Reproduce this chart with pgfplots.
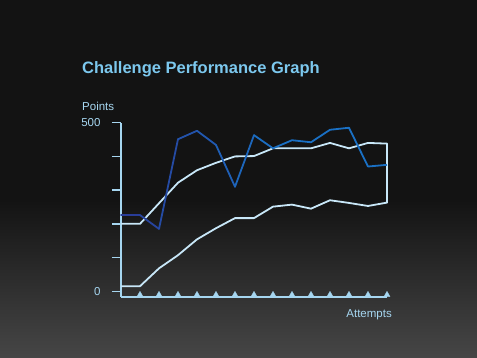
\documentclass[border=0pt]{standalone}
\usepackage{pgfplots}
\pgfplotsset{compat=1.18}
\usepackage{fontspec}
\setmainfont{Liberation Sans}
\definecolor{bgtop}{HTML}{131313}
\definecolor{bgbot}{HTML}{464646}
\definecolor{axcol}{HTML}{A6D6F0}
\definecolor{linecol}{HTML}{C8E7F8}
\definecolor{titlecol}{HTML}{7CC8EE}
\definecolor{blueA}{HTML}{2A3A96}
\definecolor{blueB}{HTML}{1A70C4}
\begin{document}
\begin{tikzpicture}[x=1pt,y=1pt]
\fill[bgtop] (0,0) rectangle (477,-201);
\shade[top color=bgtop, bottom color=bgbot] (0,-200) rectangle (477,-358);
\node[anchor=base west, font=\fontsize{16.5}{18}\selectfont\bfseries, text=titlecol, inner sep=0] at (82,-74) {Challenge Performance Graph};
\node[anchor=base west, font=\fontsize{11.5}{13}\selectfont, text=axcol, inner sep=0] at (82,-111) {Points};
\node[anchor=base east, font=\fontsize{11.5}{13}\selectfont, text=axcol, inner sep=0] at (392,-317.5) {Attempts};
\begin{axis}[
  at={(121pt,-297pt)}, anchor=south west,
  scale only axis, width=266pt, height=174.3pt,
  xmin=0, xmax=14, ymin=-17, ymax=500,
  axis x line=bottom, axis y line=left,
  axis line style={axcol, line width=1.8pt, -},
  xtick=\empty,
  ytick={0,100,200,300,400,500},
  yticklabels={\raisebox{-4pt}{0},,,,,500},
  tick align=outside,
  major tick length=9pt,
  y tick style={axcol, line width=1.5pt},
  yticklabel style={font=\fontsize{11.5}{13}\selectfont, text=axcol, xshift=-8pt},
  /pgf/number format/assume math mode=true,
  clip=false,
]
% white band (upper line, right edge, lower line back)
\addplot[linecol, line width=1.8pt, line join=round] coordinates {
(0,200)(1,200)(2,261)(3,322)(4,359)(5,381)(6,400)(7,401)(8,424)(9,424)(10,424)(11,440)(12,424)(13,440)(14,438)
(14,263)(13,253)(12,262)(11,270)(10,245)(9,257)(8,251)(7,217)(6,217)(5,187)(4,154)(3,107)(2,68)(1,15)(0,15)};
% blue series, segment colours shading from navy to bright blue
\addplot[blueB!6!blueA, line width=1.8pt, line cap=round] coordinates {(0,226)(1,226)};
\addplot[blueB!19!blueA, line width=1.8pt, line cap=round] coordinates {(1,226)(2,185)};
\addplot[blueB!31!blueA, line width=1.8pt, line cap=round] coordinates {(2,185)(3,451)};
\addplot[blueB!44!blueA, line width=1.8pt, line cap=round] coordinates {(3,451)(4,476)};
\addplot[blueB!56!blueA, line width=1.8pt, line cap=round] coordinates {(4,476)(5,434)};
\addplot[blueB!69!blueA, line width=1.8pt, line cap=round] coordinates {(5,434)(6,310)};
\addplot[blueB!81!blueA, line width=1.8pt, line cap=round] coordinates {(6,310)(7,463)};
\addplot[blueB!94!blueA, line width=1.8pt, line cap=round] coordinates {(7,463)(8,424)};
\addplot[blueB, line width=1.8pt, line join=round] coordinates {(8,424)(9,448)(10,442)(11,479)(12,485)(13,370)(14,375)};
% triangle markers on the x axis
\addplot[only marks, mark=triangle*, mark size=3.4pt, axcol, every mark/.append style={yshift=2.2pt}] coordinates {
(1,-17)(2,-17)(3,-17)(4,-17)(5,-17)(6,-17)(7,-17)(8,-17)(9,-17)(10,-17)(11,-17)(12,-17)(13,-17)(14,-17)};
\end{axis}
\end{tikzpicture}
\end{document}
